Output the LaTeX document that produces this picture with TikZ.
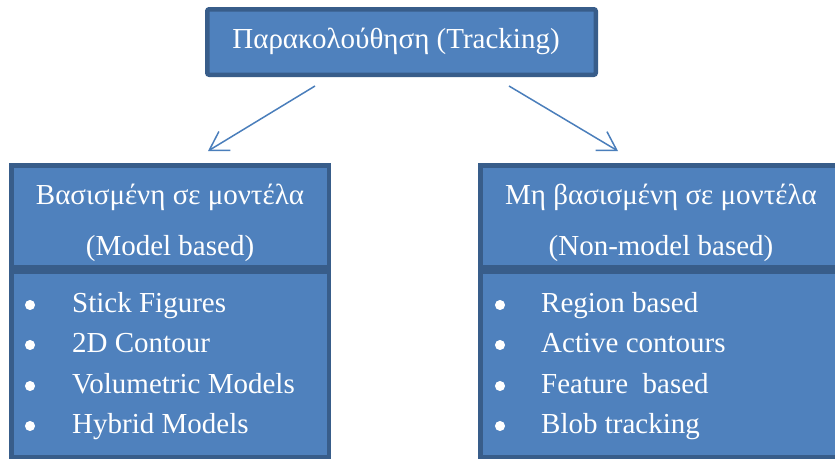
\documentclass[tikz,border=0pt]{standalone}
\usepackage{fontspec}
\setmainfont{Liberation Serif}
\usetikzlibrary{arrows.meta}
\definecolor{boxfill}{HTML}{4F81BD}
\definecolor{boxline}{HTML}{385D8A}
\definecolor{arrowblue}{HTML}{4A7EBB}
\begin{document}
\begin{tikzpicture}[x=1pt,y=-1pt,
  panel/.style={draw=boxline,fill=boxfill,line width=4.5pt,inner sep=0pt,anchor=north west},
  lbl/.style={text=white,font=\fontsize{29}{29}\selectfont,inner sep=0pt,anchor=base},
  item/.style={lbl,anchor=base west},
  dot/.style={circle,draw=white,fill=white,line width=1pt,inner sep=0pt,outer sep=0pt,minimum size=9pt},
  arr/.style={draw=arrowblue,line width=1.5pt,-{Straight Barb[length=18pt,width=22pt,line width=1.5pt]}}]
\useasboundingbox (0,0) rectangle (835,459);
\clip (0,0) rectangle (835,459);
% boxes
\node[panel,rounded corners=2pt,minimum width=388.5pt,minimum height=65.5pt] (top) at (205,7) {};
\node[panel,minimum width=317.5pt,minimum height=101.5pt] (lhead) at (9,163) {};
\node[panel,minimum width=317.5pt,minimum height=185.5pt] (llist) at (9,269) {};
\node[panel,minimum width=363.5pt,minimum height=101.5pt] (rhead) at (478,163) {};
\node[panel,minimum width=363.5pt,minimum height=185.5pt] (rlist) at (478,269) {};
% texts
\node[lbl] (ttext) at (396,48) {Παρακολούθηση (Tracking)};
\node[lbl] (lh1) at (170,204) {Βασισμένη σε μοντέλα};
\node[lbl] (lh2) at (170,255) {(Model based)};
\node[lbl] (rh1) at (661,204) {Μη βασισμένη σε μοντέλα};
\node[lbl] (rh2) at (661,255) {(Non-model based)};
% left list
\node[dot] (lb1) at (30,305) {};
\node[dot] (lb2) at (30,345) {};
\node[dot] (lb3) at (30,386) {};
\node[dot] (lb4) at (30,426) {};
\node[item] (li1) at (72,312) {Stick Figures};
\node[item] (li2) at (72,352) {2D Contour};
\node[item] (li3) at (72,393) {Volumetric Models};
\node[item] (li4) at (72,433) {Hybrid Models};
% right list
\node[dot] (rb1) at (500,305) {};
\node[dot] (rb2) at (500,345) {};
\node[dot] (rb3) at (500,386) {};
\node[dot] (rb4) at (500,426) {};
\node[item] (ri1) at (541,312) {Region based};
\node[item] (ri2) at (541,352) {Active contours};
\node[item] (ri3) at (541,393) {Feature\ \ based};
\node[item] (ri4) at (541,433) {Blob tracking};
% arrows
\draw[arr] ([xshift=-86.5pt,yshift=-9pt]top.south) -- ([xshift=38pt,yshift=12pt]lhead.north);
\draw[arr] ([xshift=107.5pt,yshift=-9pt]top.south) -- ([xshift=-44pt,yshift=12pt]rhead.north);
\end{tikzpicture}
\end{document}
